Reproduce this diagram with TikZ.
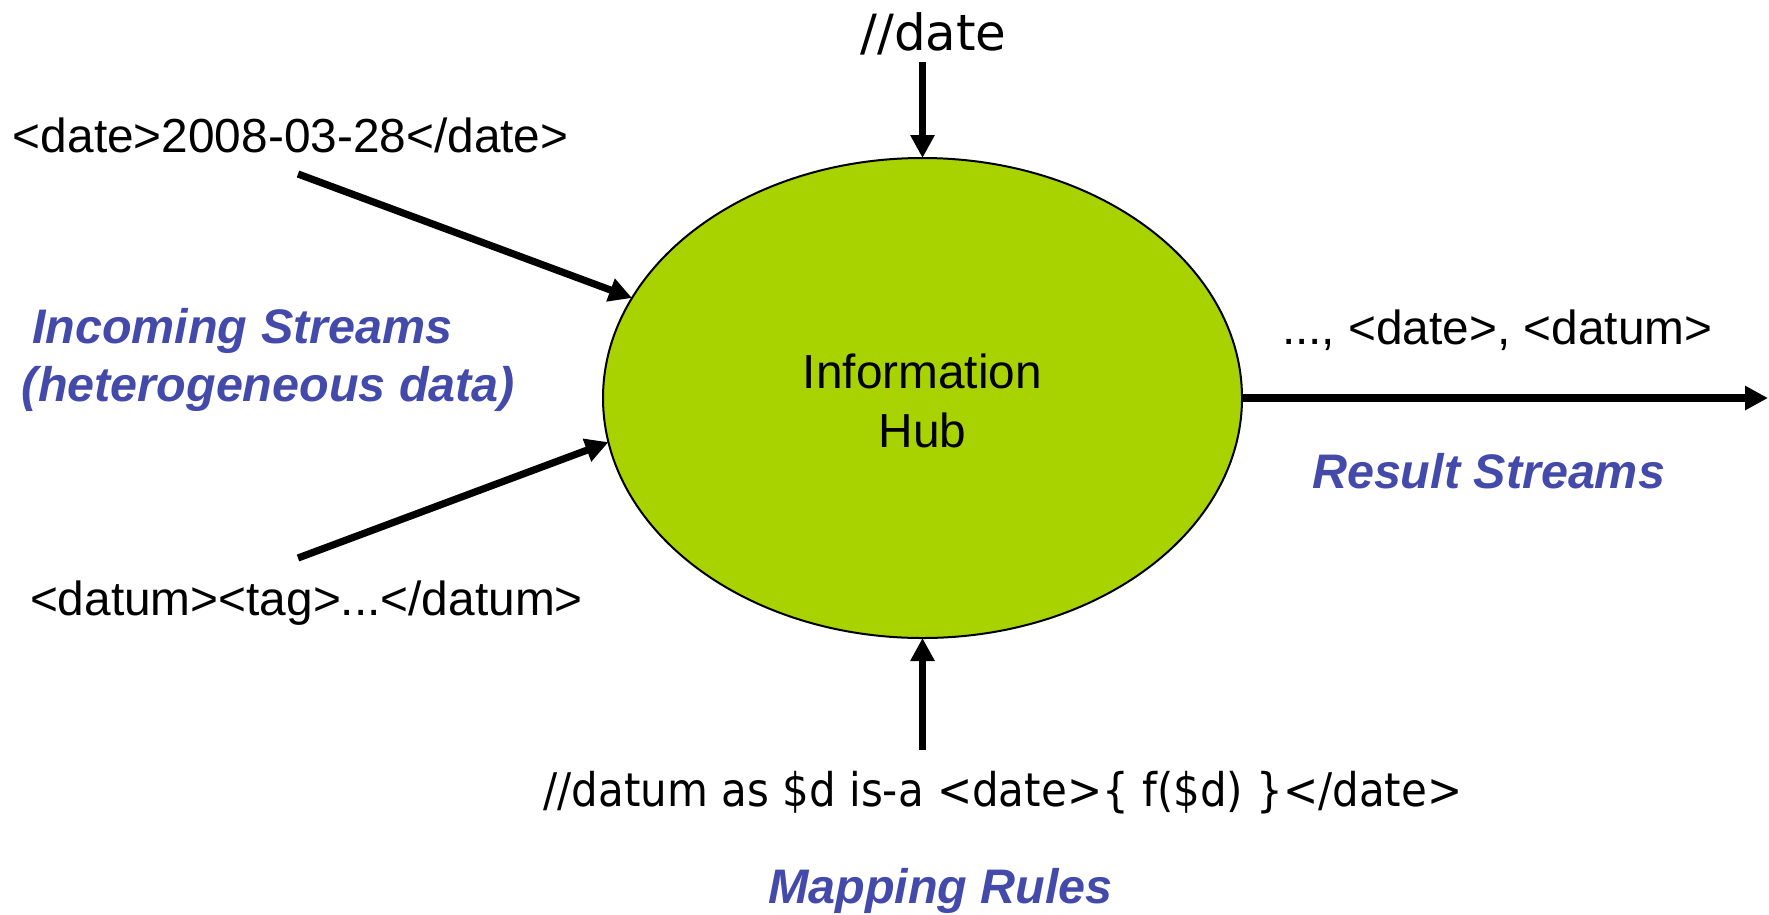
\documentclass[tikz,border=0pt]{standalone}
\usepackage{fontspec}
\setmainfont{Liberation Sans}
\newfontfamily\handfont{DejaVu Sans}
\newfontfamily\handnarrow[FakeStretch=0.905]{DejaVu Sans}
\usetikzlibrary{shapes.geometric,arrows.meta}
\definecolor{hubgreen}{RGB}{169,211,0}
\definecolor{labelblue}{RGB}{67,74,170}
\tikzset{
  plain/.style={font=\fontsize{13.6}{16}\selectfont, inner sep=0pt, outer sep=0pt},
  bluelabel/.style={font=\fontsize{13.8}{16}\selectfont\bfseries\itshape,
    text=labelblue, inner sep=0pt, outer sep=0pt},
  handtext/.style={font=\handfont\fontsize{14.2}{17}\selectfont, inner sep=0pt, outer sep=0pt},
  handrule/.style={font=\handnarrow\fontsize{13.2}{16}\selectfont, inner sep=0pt, outer sep=0pt},
  hubshape/.style={ellipse, draw=black, line width=0.2mm, fill=hubgreen,
    minimum width=63.9mm, minimum height=48mm, inner sep=0pt, outer sep=0pt,
    align=center, font=\fontsize{13.6}{17}\selectfont},
  flow/.style={line width=0.72mm, -{Triangle[width=2.3mm,length=2.3mm]}}
}
\begin{document}
\begin{tikzpicture}[x=0.1mm, y=-0.1mm]
  \useasboundingbox (0,0) rectangle (1769,914);

  % central hub
  \node[hubshape] (hub) at (922.5,398) {};
  \node[plain, align=center, font=\fontsize{13.6}{17}\selectfont] (hubtext) at (922.5,401) {Information\\Hub};

  % free ends of the connectors
  \coordinate (srcA) at (298,174);
  \coordinate (srcB) at (298,558);
  \coordinate (srcTop) at (922.5,62);
  \coordinate (srcBot) at (922.5,750);
  \coordinate (sink) at (1768,398);

  % incoming streams
  \node[plain, anchor=base west] (inA) at (13,152) {<date>2008-03-28</date>};
  \node[plain, anchor=base west] (inB) at (30,615) {<datum><tag>...</datum>};
  \node[bluelabel, anchor=base west] (inName1) at (32,343) {Incoming Streams};
  \node[bluelabel, anchor=base west] (inName2) at (22,401) {(heterogeneous data)};

  % query on top
  \node[handtext, anchor=base] (query) at (933.5,50) {//date};

  % result streams
  \node[plain, anchor=base west] (outA) at (1282,344) {..., <date>, <datum>};
  \node[bluelabel, anchor=base west] (outName) at (1312,488) {Result Streams};

  % mapping rules
  \node[handrule, anchor=base] (rule) at (1003,806) {//datum as \$d is-a <date>\{ f(\$d) \}</date>};
  \node[bluelabel, anchor=base west] (ruleName) at (768,903) {Mapping Rules};

  % connectors
  \draw[flow] (srcA) -- (hub.161.7);
  \draw[flow] (srcB) -- (hub.188.7);
  \draw[flow] (srcTop) -- (hub.north);
  \draw[flow] (srcBot) -- (hub.south);
  \draw[flow] (hub.east) -- (sink);
\end{tikzpicture}
\end{document}
